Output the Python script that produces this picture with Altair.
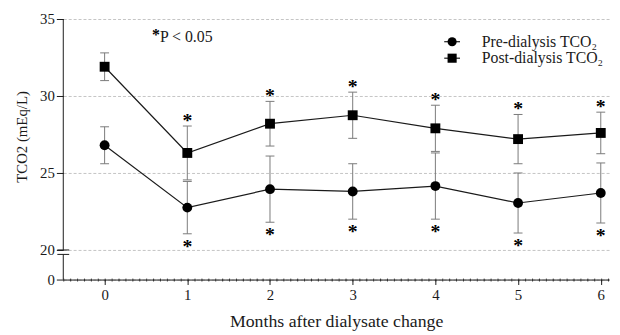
import altair as alt
import pandas as pd

# ---- data ----
months = [0, 1, 2, 3, 4, 5, 6]
pre_mean = [26.8, 22.75, 23.95, 23.8, 24.15, 23.05, 23.7]
pre_sd = [1.2, 1.7, 2.15, 1.8, 2.15, 1.95, 1.95]
post_mean = [31.9, 26.3, 28.2, 28.75, 27.9, 27.2, 27.6]
post_sd = [0.9, 1.75, 1.45, 1.5, 1.5, 1.6, 1.35]
significant = [False, True, True, True, True, True, True]
series_names = ["Pre-dialysis TCO₂", "Post-dialysis TCO₂"]
series_shapes = ["circle", "square"]
y_tick_values = [20, 25, 30, 35]
x_title = "Months after dialysate change"
y_title = "TCO2 (mEq/L)"
note_text = "P < 0.05"

FONT = "Liberation Serif"
INK = "#1a1a1a"

# ---- layout of the broken axis ----
W, H = 553, 264
Y_TOP = 35
ZERO_POS = 18.077          # display position where "0" sits below the break
BREAK_GAP = 0.29           # size of the gap in the axis line (axis units)

rows = []
for name, means, sds in [(series_names[0], pre_mean, pre_sd), (series_names[1], post_mean, post_sd)]:
    for m, mu, sd, s in zip(months, means, sds, significant):
        rows.append(dict(series=name, month=m, mean=mu, lo=mu - sd, hi=mu + sd, sig=s))
df = pd.DataFrame(rows)

xscale = alt.Scale(domain=[-0.5, 6.1], nice=False, zero=False)
yscale = alt.Scale(domain=[ZERO_POS, Y_TOP], nice=False, zero=False)

yaxis = alt.Axis(
    values=[ZERO_POS] + y_tick_values,
    labelExpr="datum.value < 19 ? '0' : format(datum.value, 'd')",
    grid=True, gridDash=[3, 2], gridColor="#b5b5b5", gridWidth=0.8,
    domain=False, tickSize=7, tickColor=INK, tickWidth=1,
    labelFont=FONT, labelFontSize=15, labelColor=INK, labelPadding=2,
    title=y_title, titleFont=FONT, titleFontSize=15, titleFontWeight="normal",
    titleColor=INK, titleAngle=270, titleAlign="center", titleBaseline="middle",
    titleX=-42, titleY=119,
)

xaxis_major = alt.Axis(
    orient="bottom", values=months, grid=False,
    domain=True, domainColor=INK, domainWidth=1,
    tickSize=5, tickColor=INK, tickWidth=1,
    labelFont=FONT, labelFontSize=15, labelColor=INK, labelPadding=3,
    title=x_title, titleFont=FONT, titleFontSize=18, titleFontWeight="normal",
    titleColor=INK, titleX=W / 2, titleY=48, titleBaseline="alphabetic", titleAlign="center",
)

minor_vals = [i / 12 for i in range(-6, 74)]
xaxis_minor = alt.Axis(
    orient="bottom", values=minor_vals, grid=False, domain=False, labels=False,
    tickSize=3, tickColor=INK, tickWidth=0.8, offset=-1.5, title=None,
)

base = alt.Chart(df)

one = alt.InlineData(values=[{"k": 1}])

# y-axis line with a break
axis_line_top = alt.Chart(one).mark_rule(color=INK, strokeWidth=1).encode(
    x=alt.value(0), y=alt.datum(Y_TOP, scale=yscale, axis=yaxis), y2=alt.datum(20)
)
axis_line_bottom = alt.Chart(one).mark_rule(color=INK, strokeWidth=1).encode(
    x=alt.value(0), y=alt.datum(20 - BREAK_GAP, scale=yscale, axis=yaxis), y2=alt.datum(ZERO_POS)
)
break_top = alt.Chart(one).mark_rule(color=INK, strokeWidth=1).encode(
    x=alt.value(-6), x2=alt.value(6), y=alt.datum(20, scale=yscale, axis=yaxis)
)
break_bottom = alt.Chart(one).mark_rule(color=INK, strokeWidth=1).encode(
    x=alt.value(-6), x2=alt.value(6), y=alt.datum(20 - BREAK_GAP, scale=yscale, axis=yaxis)
)

# minor tick axis carrier (invisible)
minor = base.mark_point(opacity=0).encode(
    x=alt.X("month:Q", scale=xscale, axis=xaxis_minor),
    y=alt.Y("mean:Q", scale=yscale, axis=yaxis),
)

err = base.mark_rule(color="#7a7a7a", strokeWidth=1).encode(
    x=alt.X("month:Q", scale=xscale, axis=None),
    y=alt.Y("lo:Q", scale=yscale, axis=yaxis), y2="hi:Q",
)
cap_hi = base.mark_point(shape="stroke", size=81, color="#7a7a7a", strokeWidth=1, filled=False, opacity=1).encode(
    x=alt.X("month:Q", scale=xscale, axis=None),
    y=alt.Y("hi:Q", scale=yscale, axis=yaxis),
)
cap_lo = base.mark_point(shape="stroke", size=81, color="#7a7a7a", strokeWidth=1, filled=False, opacity=1).encode(
    x=alt.X("month:Q", scale=xscale, axis=None),
    y=alt.Y("lo:Q", scale=yscale, axis=yaxis),
)

lines = base.mark_line(color=INK, strokeWidth=1.2).encode(
    x=alt.X("month:Q", scale=xscale, axis=xaxis_major),
    y=alt.Y("mean:Q", scale=yscale, axis=yaxis),
    detail="series:N",
)

points = base.mark_point(filled=True, size=100, color="#000000", opacity=1).encode(
    x=alt.X("month:Q", scale=xscale, axis=None),
    y=alt.Y("mean:Q", scale=yscale, axis=yaxis),
    shape=alt.Shape("series:N", scale=alt.Scale(domain=series_names, range=series_shapes), legend=None),
)

star_post = base.transform_filter(
    (alt.datum.sig == True) & (alt.datum.series == series_names[1])
).mark_text(text="*", font=FONT, fontSize=20, fontWeight="bold", color="#000000",
            baseline="alphabetic", dy=1).encode(
    x=alt.X("month:Q", scale=xscale, axis=None),
    y=alt.Y("hi:Q", scale=yscale, axis=yaxis),
)
star_pre = base.transform_filter(
    (alt.datum.sig == True) & (alt.datum.series == series_names[0])
).mark_text(text="*", font=FONT, fontSize=20, fontWeight="bold", color="#000000",
            baseline="alphabetic", dy=19).encode(
    x=alt.X("month:Q", scale=xscale, axis=None),
    y=alt.Y("lo:Q", scale=yscale, axis=yaxis),
)

# note "*P < 0.05"
note_star = alt.Chart(one).mark_text(text="*", font=FONT, fontSize=16, fontWeight="bold", color="#000000",
                                     align="left", baseline="alphabetic").encode(x=alt.value(90), y=alt.value(21))
note = alt.Chart(one).mark_text(text=note_text, font=FONT, fontSize=16, color=INK, align="left",
                                baseline="alphabetic").encode(x=alt.value(98), y=alt.value(23.5))

# manual legend
leg_layers = []
for i, (name, shp) in enumerate(zip(series_names, series_shapes)):
    ly = 23 + i * 16.7
    leg_layers.append(alt.Chart(one).mark_rule(color=INK, strokeWidth=1.2).encode(
        x=alt.value(386), x2=alt.value(402), y=alt.value(ly)))
    leg_layers.append(alt.Chart(one).mark_point(shape=shp, filled=True, size=85, color="#000000", opacity=1).encode(
        x=alt.value(394), y=alt.value(ly)))
    leg_layers.append(alt.Chart(one).mark_text(text=name, font=FONT, fontSize=16, color=INK, align="left",
                                               baseline="middle").encode(x=alt.value(424), y=alt.value(ly)))

chart = alt.layer(
    lines, minor, err, cap_hi, cap_lo, points, star_post, star_pre,
    axis_line_top, axis_line_bottom, break_top, break_bottom,
    note_star, note, *leg_layers,
).resolve_axis(x="independent").properties(
    width=W, height=H,
    padding={"left": 56, "top": 9, "right": 3, "bottom": 53},
    autosize=alt.AutoSizeParams(type="none"),
    background="white",
).configure_view(stroke=None)

chart.save("out.html", embed_options={"renderer": "svg", "actions": False})
